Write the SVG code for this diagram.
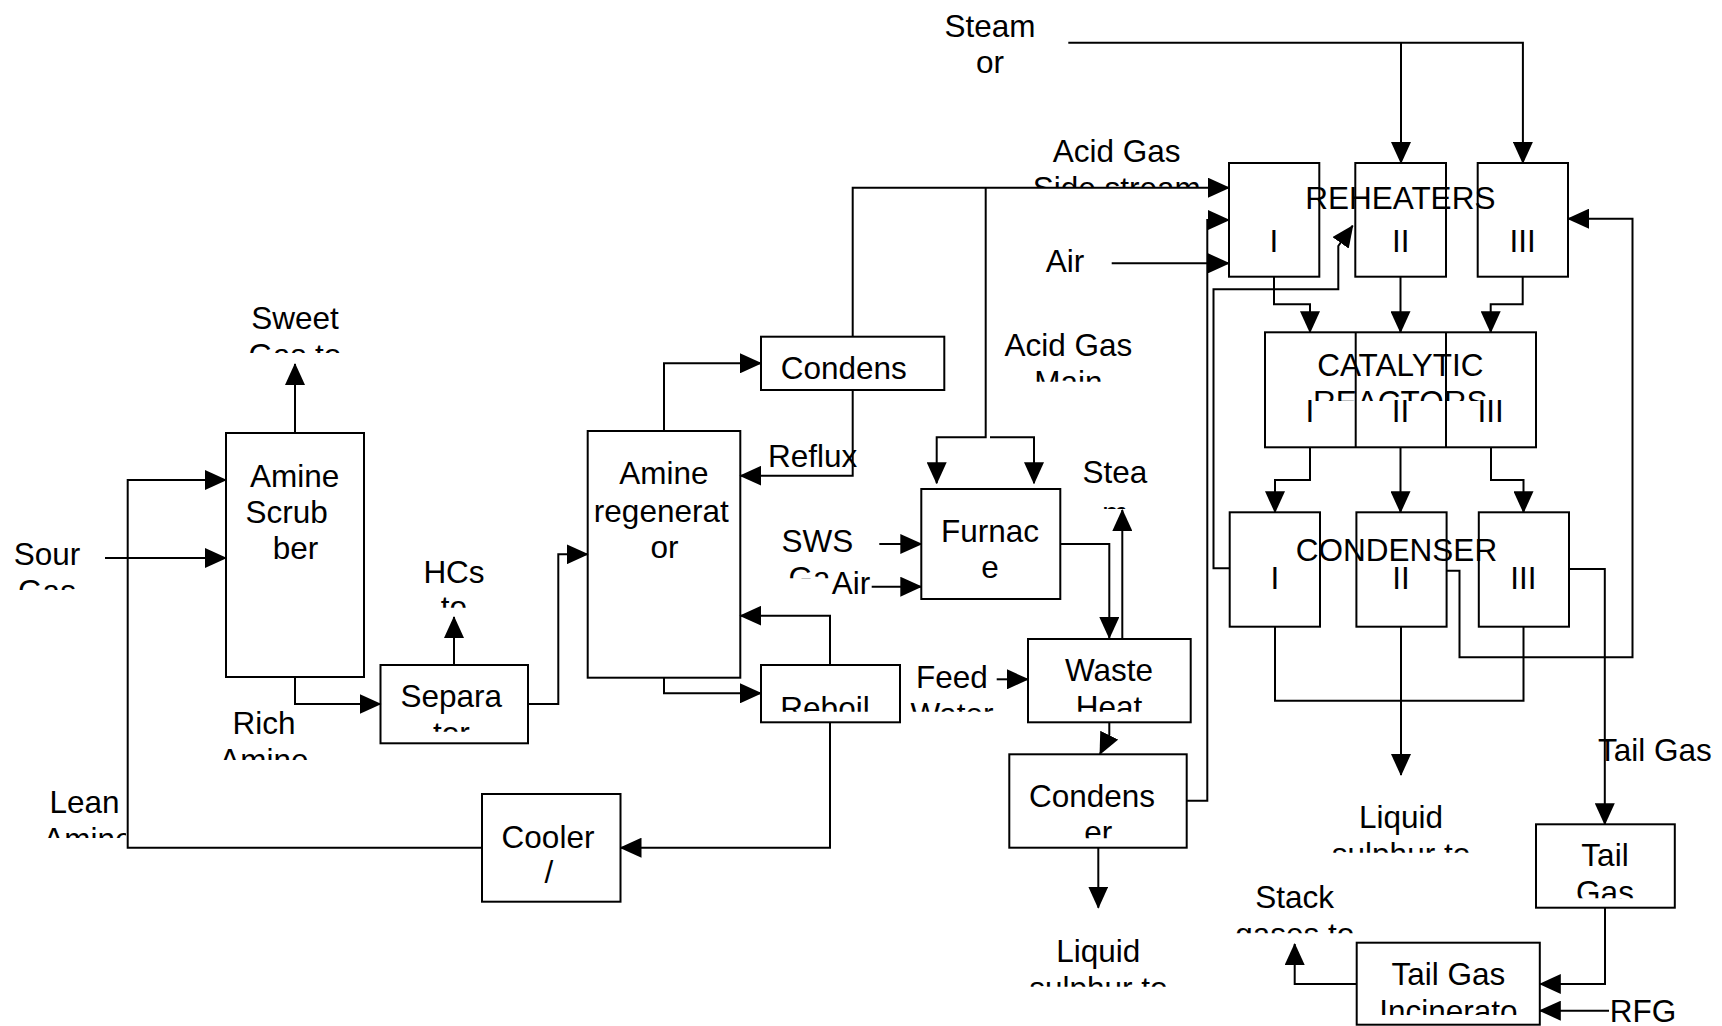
<svg xmlns="http://www.w3.org/2000/svg" width="1722" height="1026" viewBox="0 0 1722 1026">
<defs>
<style>
.box{fill:none;stroke:#000;stroke-width:2}
.ln{fill:none;stroke:#000;stroke-width:2}
.arr{marker-end:url(#ah)}
text{font-family:"Liberation Sans",Arial,sans-serif;font-size:31.5px;fill:#000}
.c{text-anchor:middle}
</style>
<marker id="ah" viewBox="0 0 22 20" refX="21" refY="10" markerWidth="22" markerHeight="20" markerUnits="userSpaceOnUse" orient="auto"><path d="M0,0 L22,10 L0,20 z" fill="#000"/></marker>
<clipPath id="cSweet"><rect x="200" y="300" width="200" height="53"/></clipPath>
<clipPath id="cSour"><rect x="0" y="530" width="110" height="60"/></clipPath>
<clipPath id="cLean"><rect x="0" y="780" width="126" height="58"/></clipPath>
<clipPath id="cRich"><rect x="180" y="700" width="160" height="60"/></clipPath>
<clipPath id="cHCs"><rect x="400" y="550" width="110" height="57.7"/></clipPath>
<clipPath id="cSep"><rect x="381" y="666" width="146" height="65.7"/></clipPath>
<clipPath id="cSWS"><rect x="760" y="520" width="71.5" height="58.3"/></clipPath>
<clipPath id="cFeed"><rect x="900" y="650" width="100" height="61.7"/></clipPath>
<clipPath id="cWaste"><rect x="1029" y="640" width="160" height="71.7"/></clipPath>
<clipPath id="cReboil"><rect x="762" y="666" width="137" height="45.7"/></clipPath>
<clipPath id="cCond2"><rect x="1010" y="755" width="176" height="83.3"/></clipPath>
<clipPath id="cLiq1"><rect x="1020" y="920" width="160" height="66.7"/></clipPath>
<clipPath id="cLiq2"><rect x="1320" y="790" width="160" height="62.7"/></clipPath>
<clipPath id="cTail"><rect x="1537" y="825" width="137" height="73.3"/></clipPath>
<clipPath id="cInc"><rect x="1358" y="944" width="181" height="71"/></clipPath>
<clipPath id="cStack"><rect x="1220" y="870" width="150" height="63.3"/></clipPath>
<clipPath id="cStea"><rect x="1060" y="450" width="110" height="59"/></clipPath>
<clipPath id="cMain"><rect x="990" y="320" width="160" height="61.7"/></clipPath>
<clipPath id="cSide"><rect x="1000" y="130" width="220" height="57"/></clipPath>
<clipPath id="cReact"><rect x="1266" y="340" width="269" height="61"/></clipPath>
<clipPath id="cCond1"><rect x="762" y="337" width="182" height="52"/></clipPath>
</defs>
<rect width="1722" height="1026" fill="#fff"/>

<g id="connectors">
<path class="ln arr" d="M105,558 H226"/>
<path class="ln arr" d="M482,847.7 H127.7 V480 H226"/>
<path class="ln arr" d="M295,433 V364"/>
<path class="ln arr" d="M295,677 V704 H380.5"/>
<path class="ln arr" d="M454,665 V617"/>
<path class="ln arr" d="M528,704 H558.3 V554.3 H587.7"/>
<path class="ln arr" d="M664,431 V363.3 H761"/>
<path class="ln arr" d="M852.7,390 V475.7 H740.3"/>
<path class="ln arr" d="M852.7,336.7 V187.7 H1229"/>
<path class="ln arr" d="M985.7,187.7 V437.3 H936.7 V483.3"/>
<path class="ln arr" d="M990,437.3 H1034 V483.3"/>
<path class="ln arr" d="M1111.7,263.3 H1229"/>
<path class="ln arr" d="M1068.3,42.7 H1522.9 V163"/>
<path class="ln arr" d="M1401,42.7 V163"/>
<path class="ln arr" d="M879.3,544 H921.3"/>
<path class="ln arr" d="M871.7,586.7 H921.3"/>
<path class="ln arr" d="M1060.3,544 H1109.3 V638"/>
<path class="ln arr" d="M1122.3,639 V510"/>
<path class="ln arr" d="M996.7,679.3 H1028"/>
<path class="ln arr" d="M1109.3,722.3 V735 L1100,754"/>
<path class="ln arr" d="M1098.3,847.7 V907.7"/>
<path class="ln arr" d="M1186.7,800.7 H1207.3 V220 H1229"/>
<path class="ln arr" d="M1229.7,568.3 H1213.5 V289.3 H1338.3 V246 L1352.7,225.7"/>
<path class="ln arr" d="M1274,276.7 V304.3 H1310 V332.3"/>
<path class="ln arr" d="M1400.5,276.7 V332.3"/>
<path class="ln arr" d="M1522.7,276.7 V304.3 H1490.7 V332.3"/>
<path class="ln arr" d="M1310,447.3 V480 H1275 V512.3"/>
<path class="ln arr" d="M1400.5,447.3 V512.3"/>
<path class="ln arr" d="M1491,447.3 V480 H1523.5 V512.3"/>
<path class="ln" d="M1275,626.7 V700.7 H1523.5 V626.7"/>
<path class="ln arr" d="M1401,626.7 V775"/>
<path class="ln arr" d="M1446.6,570.7 H1459.5 V657.3 H1632.5 V218.7 H1568"/>
<path class="ln arr" d="M1569,569 H1604.8 V824.3"/>
<path class="ln arr" d="M1605,907.7 V984 H1539.8"/>
<path class="ln arr" d="M1609,1010.7 H1539.8"/>
<path class="ln arr" d="M1356.7,984 H1294.7 V944"/>
<path class="ln arr" d="M830,665 V615.7 H740.3"/>
<path class="ln arr" d="M664,677.7 V693.3 H761"/>
<path class="ln arr" d="M830,722.3 V847.7 H620.5"/>
</g>

<g id="amine-scrubber">
<rect class="box" x="226" y="433" width="138" height="244"/>
<text class="c" x="294.7" y="486.7">Amine</text>
<text class="c" x="286.7" y="523">Scrub</text>
<text class="c" x="295.5" y="558.5">ber</text>
</g>
<g id="separator">
<rect class="box" x="380.5" y="665" width="147.5" height="78.3"/>
<text class="c" x="451.3" y="707">Separa</text>
<text class="c" x="451.3" y="744" clip-path="url(#cSep)">tor</text>
</g>
<g id="amine-regenerator">
<rect class="box" x="587.7" y="431" width="152.6" height="246.7"/>
<text class="c" x="663.8" y="484">Amine</text>
<text class="c" x="661.3" y="521.7">regenerat</text>
<text class="c" x="664.5" y="557.7">or</text>
</g>
<g id="condenser-top">
<rect class="box" x="761" y="336.7" width="183.3" height="53.3"/>
<text class="c" x="843.7" y="379.3" clip-path="url(#cCond1)">Condens</text>
</g>
<g id="reboiler">
<rect class="box" x="761" y="665" width="139" height="57.3"/>
<text class="c" x="825" y="719" clip-path="url(#cReboil)">Reboil</text>
</g>
<g id="cooler">
<rect class="box" x="482" y="794" width="138.5" height="107.7"/>
<text class="c" x="548" y="848">Cooler</text>
<text class="c" x="549" y="883">/</text>
</g>
<g id="furnace">
<rect class="box" x="921.3" y="489" width="139" height="110"/>
<text class="c" x="990" y="541.7">Furnac</text>
<text class="c" x="990" y="578.3">e</text>
</g>
<g id="waste-heat">
<rect class="box" x="1028" y="639" width="162.7" height="83.3"/>
<text class="c" x="1109" y="680.7">Waste</text>
<text class="c" x="1109" y="717.7" clip-path="url(#cWaste)">Heat</text>
</g>
<g id="condenser-lower">
<rect class="box" x="1009.3" y="754.3" width="177.4" height="93.4"/>
<text class="c" x="1092" y="806.7">Condens</text>
<text class="c" x="1098.3" y="843" clip-path="url(#cCond2)">er</text>
</g>
<g id="reheaters">
<rect class="box" x="1229" y="163" width="90.3" height="113.7"/>
<rect class="box" x="1355.3" y="163" width="90.7" height="113.7"/>
<rect class="box" x="1477.7" y="163" width="90.3" height="113.7"/>
<text class="c" x="1400.3" y="209">REHEATERS</text>
<text class="c" x="1274" y="251.7">I</text>
<text class="c" x="1400.7" y="251.7">II</text>
<text class="c" x="1522.7" y="251.7">III</text>
</g>
<g id="catalytic-reactors">
<rect class="box" x="1265" y="332.3" width="271" height="115"/>
<path class="ln" d="M1355.7,332.3 V447.3 M1446,332.3 V447.3"/>
<text class="c" x="1400.3" y="375.7">CATALYTIC</text>
<text class="c" x="1400.3" y="412.5" clip-path="url(#cReact)">REACTORS</text>
<text class="c" x="1310" y="421.7">I</text>
<text class="c" x="1400.5" y="421.7">II</text>
<text class="c" x="1490.7" y="421.7">III</text>
</g>
<g id="condensers">
<rect class="box" x="1229.7" y="512.3" width="90.3" height="114.4"/>
<rect class="box" x="1356.4" y="512.3" width="90.2" height="114.4"/>
<rect class="box" x="1478.8" y="512.3" width="90.2" height="114.4"/>
<text class="c" x="1396.5" y="561">CONDENSER</text>
<text class="c" x="1275" y="589.3">I</text>
<text class="c" x="1401" y="589.3">II</text>
<text class="c" x="1523.5" y="589.3">III</text>
</g>
<g id="tail-gas">
<rect class="box" x="1536" y="824.3" width="138.8" height="83.4"/>
<text class="c" x="1605" y="866">Tail</text>
<text class="c" x="1605" y="903" clip-path="url(#cTail)">Gas</text>
</g>
<g id="tail-gas-incinerator">
<rect class="box" x="1356.7" y="942.7" width="183.1" height="82"/>
<text class="c" x="1448.3" y="985">Tail Gas</text>
<text class="c" x="1448.3" y="1022" clip-path="url(#cInc)">Incinerato</text>
</g>

<g id="labels">
<text class="c" x="295" y="329.3">Sweet</text>
<text class="c" x="295" y="366.3" clip-path="url(#cSweet)">Gas to</text>
<text class="c" x="47" y="565">Sour</text>
<text class="c" x="47" y="602" clip-path="url(#cSour)">Gas</text>
<text class="c" x="84.5" y="813">Lean</text>
<text class="c" x="88" y="850" clip-path="url(#cLean)">Amine</text>
<text class="c" x="264" y="734">Rich</text>
<text class="c" x="264" y="771" clip-path="url(#cRich)">Amine</text>
<text class="c" x="454" y="582.7">HCs</text>
<text class="c" x="454" y="618" clip-path="url(#cHCs)">to</text>
<text x="768" y="466.7">Reflux</text>
<text class="c" x="817.5" y="551.7">SWS</text>
<text class="c" x="817.5" y="588.7" clip-path="url(#cSWS)">Gas</text>
<text x="831.7" y="594">Air</text>
<text class="c" x="952" y="688.3">Feed</text>
<text class="c" x="952" y="725.3" clip-path="url(#cFeed)">Water</text>
<text class="c" x="1068.3" y="356">Acid Gas</text>
<text class="c" x="1068.3" y="393" clip-path="url(#cMain)">Main</text>
<text class="c" x="1116.7" y="161.7">Acid Gas</text>
<text class="c" x="1116.7" y="198.7" clip-path="url(#cSide)">Side stream</text>
<text x="1045.7" y="271.7">Air</text>
<text class="c" x="990" y="37.3">Steam</text>
<text class="c" x="990" y="73.3">or</text>
<text class="c" x="1115" y="483.3">Stea</text>
<text class="c" x="1115" y="524" clip-path="url(#cStea)">m</text>
<text class="c" x="1098.3" y="961.7">Liquid</text>
<text class="c" x="1098.3" y="998.7" clip-path="url(#cLiq1)">sulphur to</text>
<text class="c" x="1401" y="828.3">Liquid</text>
<text class="c" x="1401" y="865.3" clip-path="url(#cLiq2)">sulphur to</text>
<text x="1598" y="761">Tail Gas</text>
<text class="c" x="1294.7" y="908.3">Stack</text>
<text class="c" x="1294.7" y="945.3" clip-path="url(#cStack)">gases to</text>
<text x="1609.8" y="1021.7">RFG</text>
</g>
</svg>
